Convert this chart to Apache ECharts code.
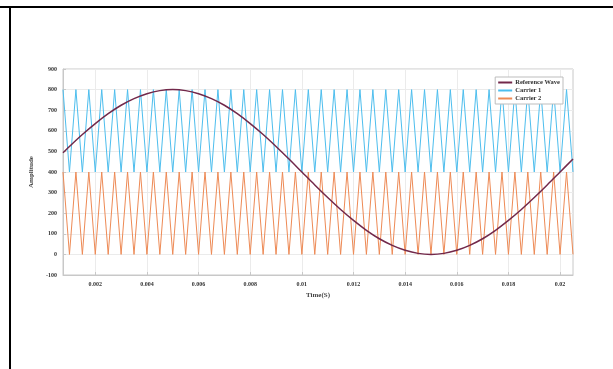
<!DOCTYPE html>
<html>
<head>
<meta charset="utf-8">
<script src="https://cdn.jsdelivr.net/npm/echarts@6/dist/echarts.min.js"></script>
<style>html,body{margin:0;padding:0;background:#fff}#c{width:613px;height:369px}</style>
</head>
<body>
<div id="c"></div>
<script>
// ---- data ----
const xTicks = [0.002, 0.004, 0.006, 0.008, 0.01, 0.012, 0.014, 0.016, 0.018, 0.02];
const yTicks = [-100, 0, 100, 200, 300, 400, 500, 600, 700, 800, 900];

const refTimes = [0.00075, 0.001, 0.0015, 0.002, 0.0025, 0.003, 0.0035, 0.004, 0.0045, 0.005,
  0.0055, 0.006, 0.0065, 0.007, 0.0075, 0.008, 0.0085, 0.009, 0.0095, 0.01,
  0.0105, 0.011, 0.0115, 0.012, 0.0125, 0.013, 0.0135, 0.014, 0.0145, 0.015,
  0.0155, 0.016, 0.0165, 0.017, 0.0175, 0.018, 0.0185, 0.019, 0.0195, 0.02, 0.0205];
const refValues = [493, 524, 582, 635, 683, 724, 756, 780, 795, 800,
  795, 780, 756, 724, 683, 635, 582, 524, 463, 400,
  337, 276, 218, 165, 117, 76, 44, 20, 5, 0,
  5, 20, 44, 76, 117, 165, 218, 276, 337, 400, 463];

const carrierTimes = [0.00075, 0.001, 0.00125, 0.0015, 0.00175, 0.002, 0.00225, 0.0025, 0.00275, 0.003,
  0.00325, 0.0035, 0.00375, 0.004, 0.00425, 0.0045, 0.00475, 0.005, 0.00525, 0.0055,
  0.00575, 0.006, 0.00625, 0.0065, 0.00675, 0.007, 0.00725, 0.0075, 0.00775, 0.008,
  0.00825, 0.0085, 0.00875, 0.009, 0.00925, 0.0095, 0.00975, 0.01, 0.01025, 0.0105,
  0.01075, 0.011, 0.01125, 0.0115, 0.01175, 0.012, 0.01225, 0.0125, 0.01275, 0.013,
  0.01325, 0.0135, 0.01375, 0.014, 0.01425, 0.0145, 0.01475, 0.015, 0.01525, 0.0155,
  0.01575, 0.016, 0.01625, 0.0165, 0.01675, 0.017, 0.01725, 0.0175, 0.01775, 0.018,
  0.01825, 0.0185, 0.01875, 0.019, 0.01925, 0.0195, 0.01975, 0.02, 0.02025, 0.0205];
const carrier1Values = [800, 400, 800, 400, 800, 400, 800, 400, 800, 400,
  800, 400, 800, 400, 800, 400, 800, 400, 800, 400,
  800, 400, 800, 400, 800, 400, 800, 400, 800, 400,
  800, 400, 800, 400, 800, 400, 800, 400, 800, 400,
  800, 400, 800, 400, 800, 400, 800, 400, 800, 400,
  800, 400, 800, 400, 800, 400, 800, 400, 800, 400,
  800, 400, 800, 400, 800, 400, 800, 400, 800, 400,
  800, 400, 800, 400, 800, 400, 800, 400, 800, 400];
const carrier2Values = [400, 0, 400, 0, 400, 0, 400, 0, 400, 0,
  400, 0, 400, 0, 400, 0, 400, 0, 400, 0,
  400, 0, 400, 0, 400, 0, 400, 0, 400, 0,
  400, 0, 400, 0, 400, 0, 400, 0, 400, 0,
  400, 0, 400, 0, 400, 0, 400, 0, 400, 0,
  400, 0, 400, 0, 400, 0, 400, 0, 400, 0,
  400, 0, 400, 0, 400, 0, 400, 0, 400, 0,
  400, 0, 400, 0, 400, 0, 400, 0, 400, 0];

const seriesNames = ['Reference Wave', 'Carrier 1', 'Carrier 2'];
const xName = 'Time(S)';
const yName = 'Amplitude';

// ---- chart ----
const zip = (a, b) => a.map((t, i) => [t, b[i]]);
const serif = '"Liberation Serif", "DejaVu Serif", serif';
const chart = echarts.init(document.getElementById('c'), null, {renderer: 'canvas'});
chart.setOption({
  animation: false,
  backgroundColor: '#fff',
  graphic: [
    {type: 'rect', shape: {x: 0, y: 6, width: 613, height: 2}, style: {fill: '#000'}, silent: true},
    {type: 'rect', shape: {x: 9, y: 6, width: 2, height: 363}, style: {fill: '#000'}, silent: true}
  ],
  grid: {left: 63, right: 40, top: 69, bottom: 94, show: true, borderColor: '#c8c8c8', borderWidth: 1, containLabel: false},
  legend: {
    data: seriesNames,
    orient: 'vertical',
    right: 50, top: 77,
    itemWidth: 14, itemHeight: 2, itemGap: 1,
    padding: [2, 3, 2, 3],
    backgroundColor: '#fff',
    borderColor: '#bdbdbd', borderWidth: 1, borderRadius: 0,
    icon: 'rect',
    textStyle: {fontFamily: serif, fontSize: 6.5, fontWeight: 'bold', color: '#333', padding: [0, 0, 0, -2]}
  },
  xAxis: {
    type: 'value', min: 0.00075, max: 0.0205,
    name: xName, nameLocation: 'middle', nameGap: 14,
    nameTextStyle: {fontFamily: serif, fontSize: 7, fontWeight: 'bold', color: '#444'},
    axisLine: {show: true, onZero: false, lineStyle: {color: '#c8c8c8'}},
    axisTick: {show: true, inside: true, length: 3, customValues: xTicks, lineStyle: {color: '#c8c8c8'}},
    axisLabel: {customValues: xTicks, fontFamily: serif, fontSize: 6, fontWeight: 'bold', color: '#333', margin: 6,
      formatter: v => String(+v.toFixed(3))},
    splitLine: {show: true, lineStyle: {color: '#ebebeb', width: 1}}
  },
  yAxis: {
    type: 'value', min: -100, max: 900, interval: 100,
    name: yName, nameLocation: 'middle', nameGap: 21,
    nameTextStyle: {fontFamily: serif, fontSize: 7, fontWeight: 'bold', color: '#444'},
    axisLine: {show: true, lineStyle: {color: '#c8c8c8'}},
    axisTick: {show: true, inside: true, length: 3, lineStyle: {color: '#c8c8c8'}},
    axisLabel: {fontFamily: serif, fontSize: 6, fontWeight: 'bold', color: '#333', margin: 6},
    splitLine: {show: true, lineStyle: {color: '#ebebeb', width: 1}}
  },
  series: [
    {name: 'Carrier 1', type: 'line', data: zip(carrierTimes, carrier1Values), showSymbol: false,
      lineStyle: {color: '#4DBEEE', width: 1}, itemStyle: {color: '#4DBEEE'}, z: 2},
    {name: 'Carrier 2', type: 'line', data: zip(carrierTimes, carrier2Values), showSymbol: false,
      lineStyle: {color: '#EE8A55', width: 1}, itemStyle: {color: '#EE8A55'}, z: 2},
    {name: 'Reference Wave', type: 'line', data: zip(refTimes, refValues), showSymbol: false, smooth: 0.3,
      lineStyle: {color: '#72284a', width: 1.5}, itemStyle: {color: '#72284a'}, z: 3}
  ]
});
</script>
</body>
</html>
